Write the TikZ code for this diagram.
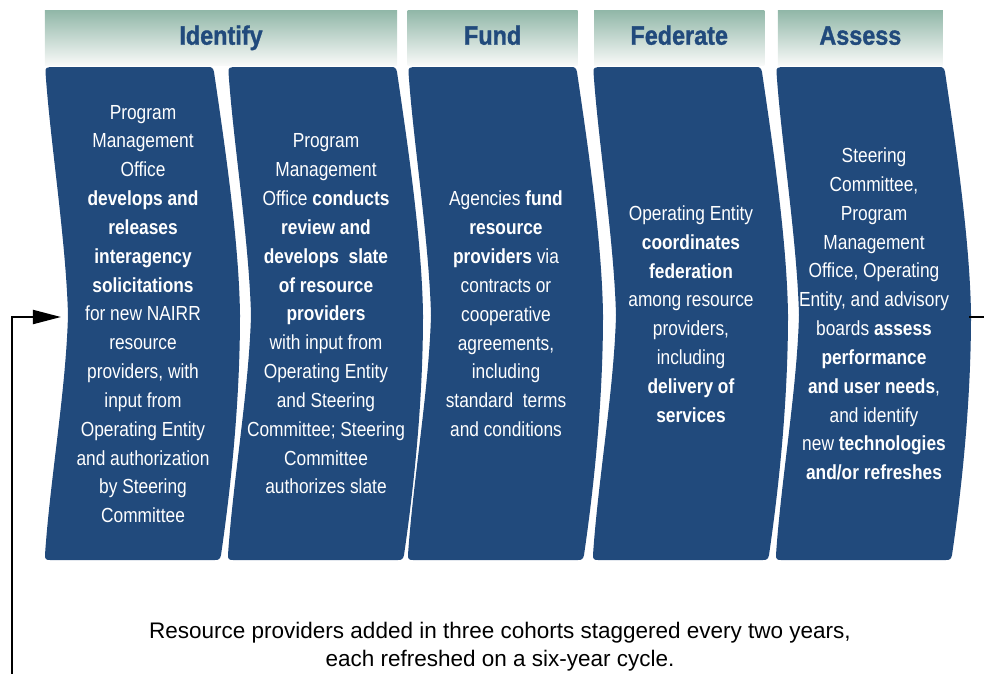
\documentclass[tikz,border=0pt]{standalone}
\usepackage{fontspec}
\setmainfont{Liberation Sans}
\newfontfamily\condfont{Liberation Sans}[FakeStretch=0.85]
\newfontfamily\headfont{Liberation Sans}[FakeStretch=0.88, BoldFeatures={FakeBold=1.2}]
\usetikzlibrary{arrows.meta, positioning}

\definecolor{navy}{HTML}{214A7C}
\definecolor{hdtop}{HTML}{92B8A9}
\definecolor{hdbot}{HTML}{F8F9F8}

\begin{document}
\begin{tikzpicture}[
  x=0.025cm, y=-0.025cm,
  node distance = 0.25cm,
  hdr/.style  = {top color=hdtop, bottom color=hdbot, minimum height=1.35cm,
                 inner sep=0pt, text height=13.5pt, text depth=4pt, text=navy,
                 font=\headfont\bfseries\fontsize{18.9}{22}\selectfont},
  step txt/.style = {text=white, align=center, inner sep=0pt,
                 font=\condfont\fontsize{14.5}{20.5}\selectfont},
  note/.style = {align=center, font=\fontsize{16}{20}\selectfont},
  loop arr/.style = {line width=1.4pt, line cap=rect},
]
\useasboundingbox (0,0) rectangle (984,673);

% phase headers
\node[hdr, minimum width=8.8cm]   (identify) at (221,38)          {Identify};
\node[hdr, minimum width=4.25cm]  (fund)     [right=of identify]  {Fund};
\node[hdr, minimum width=4.25cm]  (federate) [right=0.4cm of fund] {Federate};
\node[hdr, minimum width=4.125cm] (assess)   [right=0.325cm of federate] {Assess};

% chevron boxes
\foreach \L [count=\i] in {45,228,408,593,776} {
  \fill[navy] (\L+5,67) -- (\L+163,67)
    .. controls (\L+167,67) and (\L+168,68) .. (\L+169,72)
    .. controls (\L+179,140) and (\L+194,240) .. (\L+195,315)
    .. controls (\L+195,410) and (\L+184,500) .. (\L+176,555)
    .. controls (\L+175,559) and (\L+174,560) .. (\L+170,560)
    -- (\L+5,560)
    .. controls (\L+1,560) and (\L,559) .. (\L,555)
    .. controls (\L+5,480) and (\L+21,390) .. (\L+23,315)
    .. controls (\L+21,240) and (\L+5,140) .. (\L+0.5,72)
    .. controls (\L+0.3,68) and (\L+2,67) .. (\L+5,67) -- cycle;
  \coordinate (box\i-w) at (\L+23,317);
  \coordinate (box\i-e) at (\L+194,317);
  \coordinate (box\i-c) at (\L+98,314);
}

% box texts
\node[step txt] (t-identify) at (box1-c) {Program\\Management\\Office\\\textbf{develops and}\\\textbf{releases}\\\textbf{interagency}\\\textbf{solicitations}\\for new NAIRR\\resource\\providers, with\\input from\\Operating Entity\\and authorization\\by Steering\\Committee};
\node[step txt] (t-review) at (box2-c) {Program\\Management\\Office \textbf{conducts}\\\textbf{review and}\\\textbf{develops\ \ slate}\\\textbf{of resource}\\\textbf{providers}\\with input from\\Operating Entity\\and Steering\\Committee; Steering\\Committee\\authorizes slate};
\node[step txt] (t-fund) at (box3-c) {Agencies \textbf{fund}\\\textbf{resource}\\\textbf{providers} via\\contracts or\\cooperative\\agreements,\\including\\standard\ \ terms\\and conditions};
\node[step txt] (t-federate) at (box4-c) {Operating Entity\\\textbf{coordinates}\\\textbf{federation}\\among resource\\providers,\\including\\\textbf{delivery of}\\\textbf{services}};
\node[step txt] (t-assess) at (box5-c) {Steering\\Committee,\\Program\\Management\\Office, Operating\\Entity, and advisory\\boards \textbf{assess}\\\textbf{performance}\\\textbf{and user needs},\\and identify\\new \textbf{technologies}\\\textbf{and/or refreshes}};

% cycle note
\node[note] (cycle-note) at (500,647) {Resource providers added in three cohorts staggered every two years,\\each refreshed on a six-year cycle.};

% feedback loop
\coordinate (loop-out) at (984,317);
\coordinate (loop-in)  at (12,673);
\draw[loop arr] (box5-e) -- (loop-out);
\draw[loop arr, -{Triangle[length=20pt,width=10pt]}, shorten >=5pt] (loop-in) |- (box1-w);

\end{tikzpicture}
\end{document}
